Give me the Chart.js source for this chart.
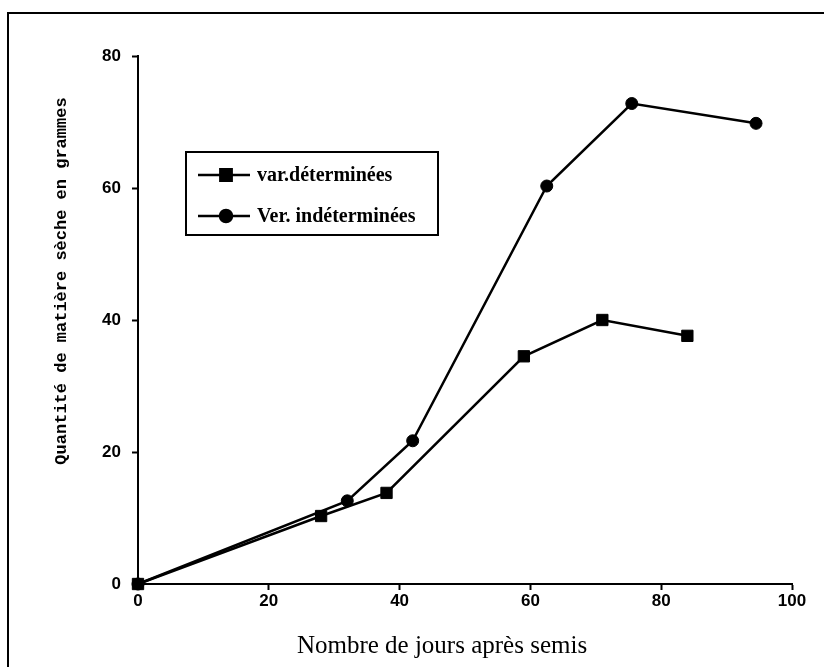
<!DOCTYPE html>
<html lang="fr">
<head>
  <meta charset="UTF-8">
  <title>Matière sèche selon le nombre de jours après semis</title>
  <script src="https://cdn.jsdelivr.net/npm/chart.js"></script>
  <style>
    body {
      margin: 0;
      background: #ffffff;
    }
    canvas {
      display: block;
    }
  </style>
</head>
<body>
  <canvas id="myChart" width="824" height="667"></canvas>

  <script>
    // Values
    const seriesNames = ['var.déterminées', 'Ver. indéterminées'];
    const daysDet = [0, 28, 38, 59, 71, 84];
    const massDet = [0, 10.3, 13.8, 34.5, 40, 37.6];
    const daysInd = [0, 32, 42, 62.5, 75.5, 94.5];
    const massInd = [0, 12.6, 21.7, 60.3, 72.8, 69.8];
    const xTicks = [0, 20, 40, 60, 80, 100];
    const yTicks = [0, 20, 40, 60, 80];
    const xTitle = 'Nombre de jours après semis';
    const yTitle = 'Quantité de matière sèche en grammes';

    function toPoints(xs, ys) {
      return xs.map((x, i) => ({ x: x, y: ys[i] }));
    }

    // Frame, axis titles and the boxed legend, drawn on the canvas
    const decorations = {
      id: 'decorations',
      beforeDraw(chart) {
        const ctx = chart.ctx;
        ctx.save();
        ctx.fillStyle = '#ffffff';
        ctx.fillRect(0, 0, chart.width, chart.height);
        ctx.strokeStyle = '#000';
        ctx.lineWidth = 2;
        ctx.beginPath();
        ctx.moveTo(8, chart.height);
        ctx.lineTo(8, 13);
        ctx.lineTo(chart.width, 13);
        ctx.stroke();
        ctx.restore();
      },
      afterDraw(chart) {
        const ctx = chart.ctx;
        ctx.save();
        ctx.fillStyle = '#000';

        // x title
        ctx.font = '25px "Liberation Serif"';
        ctx.textAlign = 'center';
        ctx.textBaseline = 'alphabetic';
        ctx.fillText(xTitle, 442, 653);

        // y title
        ctx.save();
        ctx.translate(62, 281);
        ctx.rotate(-Math.PI / 2);
        ctx.font = 'bold 17px "Liberation Mono"';
        ctx.textBaseline = 'middle';
        ctx.fillText(yTitle, 0, 0);
        ctx.restore();

        // legend box
        ctx.strokeStyle = '#000';
        ctx.lineWidth = 2;
        ctx.strokeRect(186, 152, 252, 83);
        const rows = [175, 216];
        chart.data.datasets.forEach((ds, i) => {
          const y = rows[i];
          ctx.lineWidth = ds.borderWidth;
          ctx.beginPath();
          ctx.moveTo(198, y);
          ctx.lineTo(250, y);
          ctx.stroke();
          Chart.helpers.drawPoint(ctx, {
            pointStyle: ds.pointStyle,
            radius: ds.pointRadius,
            borderWidth: 1
          }, 226, y);
          ctx.fill();
          ctx.font = 'bold 20px "Liberation Serif"';
          ctx.textAlign = 'left';
          ctx.textBaseline = 'middle';
          ctx.fillText(ds.label, 257, y + 1);
        });
        ctx.restore();
      }
    };

    const tickFont = { family: '"Liberation Sans"', size: 17, weight: 'bold' };

    const ctx = document.getElementById('myChart').getContext('2d');
    const myChart = new Chart(ctx, {
      type: 'line',
      data: {
        datasets: [{
          label: seriesNames[0],
          data: toPoints(daysDet, massDet),
          borderColor: '#000',
          backgroundColor: '#000',
          borderWidth: 2.5,
          pointStyle: 'rect',
          pointRadius: 8,
          pointBorderWidth: 1,
          fill: false,
          clip: false,
        }, {
          label: seriesNames[1],
          data: toPoints(daysInd, massInd),
          borderColor: '#000',
          backgroundColor: '#000',
          borderWidth: 2.5,
          pointStyle: 'circle',
          pointRadius: 6,
          pointBorderWidth: 1,
          fill: false,
          clip: false,
        }],
      },
      options: {
        responsive: false,
        animation: false,
        layout: {
          padding: { left: 8, top: 56, right: 32, bottom: 0 }
        },
        plugins: {
          legend: { display: false },
          tooltip: { enabled: false },
        },
        scales: {
          x: {
            type: 'linear',
            position: 'bottom',
            min: 0,
            max: 100,
            afterBuildTicks: (scale) => { scale.ticks = xTicks.map(v => ({ value: v })); },
            afterFit: (scale) => { scale.height = 83; },
            ticks: { color: '#000', font: tickFont, padding: 1, maxRotation: 0 },
            grid: { drawOnChartArea: false, tickLength: 6, tickColor: '#000', tickWidth: 2 },
            border: { color: '#000', width: 2 },
          },
          y: {
            type: 'linear',
            position: 'left',
            min: 0,
            max: 80,
            afterBuildTicks: (scale) => { scale.ticks = yTicks.map(v => ({ value: v })); },
            afterFit: (scale) => { scale.width = 130; },
            ticks: { color: '#000', font: tickFont, padding: 11 },
            grid: { drawOnChartArea: false, tickLength: 6, tickColor: '#000', tickWidth: 2 },
            border: { color: '#000', width: 2 },
          },
        },
      },
      plugins: [decorations],
    });
  </script>
</body>
</html>
